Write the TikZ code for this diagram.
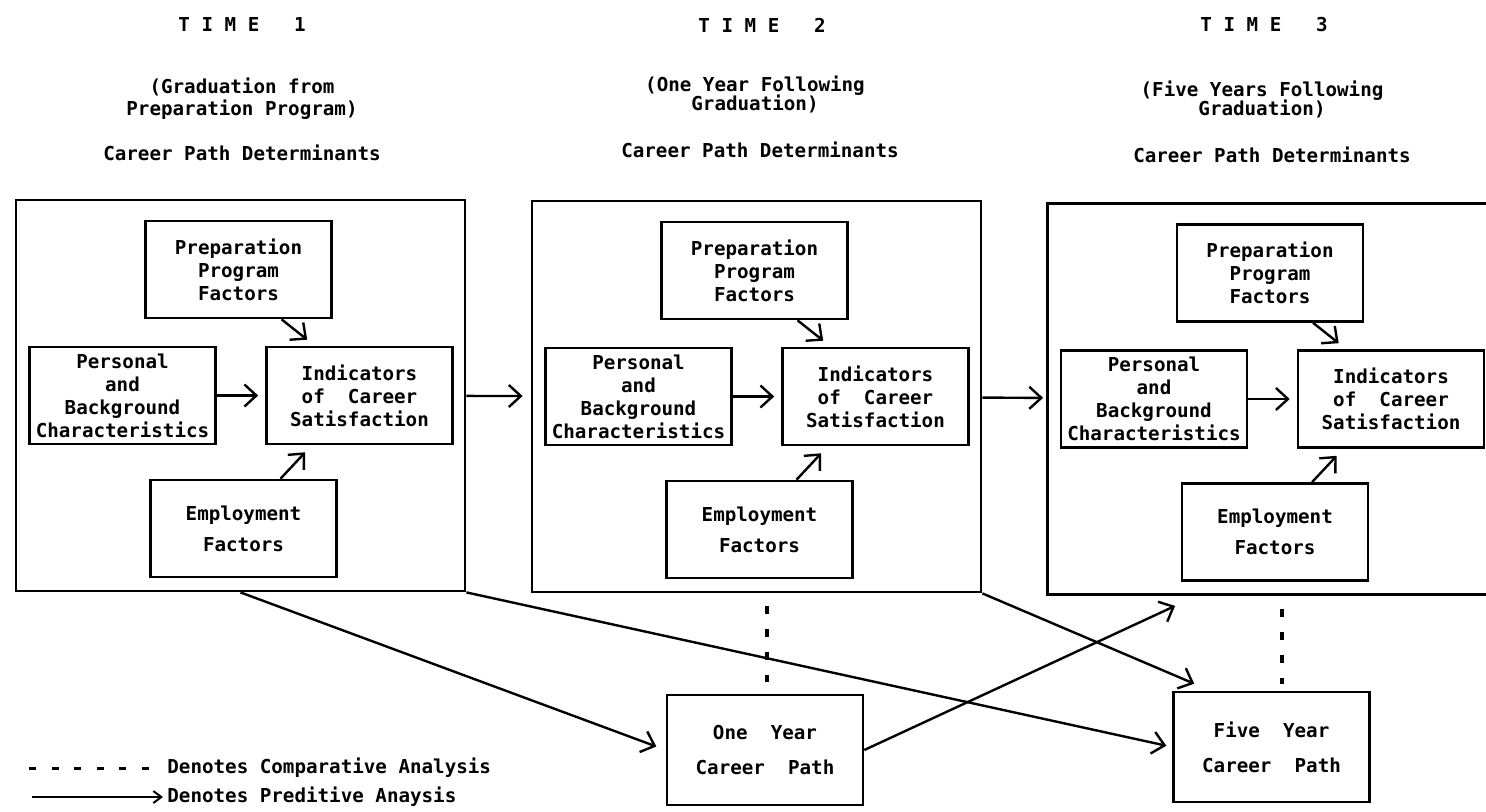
\documentclass[tikz,border=0pt]{standalone}
\usepackage{fontspec}
\setmainfont{DejaVu Sans Mono}
\usetikzlibrary{arrows.meta,positioning,calc}
\tikzset{
    panel/.style={draw=black, line width=1.4pt, minimum width=224.5pt, minimum height=195.5pt, inner sep=0pt},
    factor/.style={draw=black, line width=1.3pt, minimum width=93pt, minimum height=48.5pt,
        align=center, inner sep=1pt, font=\bfseries\fontsize{9.6}{11.5}\selectfont},
    careerpath/.style={factor, minimum width=98pt, minimum height=55pt},
    heading/.style={align=center, inner sep=0pt, font=\bfseries\fontsize{9.6}{11}\selectfont},
    predict/.style={draw=black, line width=1.2pt, -{Straight Barb[length=6pt,width=11pt]}},
    compare/.style={draw=black, line width=1.6pt, dash pattern=on 4pt off 7.5pt},
}
\begin{document}
\begin{tikzpicture}[x=0.5pt, y=-0.5pt]
	\clip (0,0) rectangle (1486,812);
	% headings
	\node[heading] (time1) at (242,25) {T I M E\ \ \ 1};
	\node[heading] (when1) at (242,99) {(Graduation from\\Preparation Program)};
	\node[heading] (det1) at (242,153) {Career Path Determinants};
	\node[heading] (time2) at (762,25) {T I M E\ \ \ 2};
	\node[heading] (when2) at (755,94) {(One Year Following\\[-1.5pt]Graduation)};
	\node[heading] (det2) at (760,150) {Career Path Determinants};
	\node[heading] (time3) at (1264,25) {T I M E\ \ \ 3};
	\node[heading] (when3) at (1262,99) {(Five Years Following\\[-1.5pt]Graduation)};
	\node[heading] (det3) at (1272,155) {Career Path Determinants};
	%
	\foreach \i/\cx/\cy in {1/240.5/395.5, 2/756.5/396.5, 3/1272/399} {
		\node[panel] (box\i) at (\cx,\cy) {};
		\node[factor] (prep\i) at ($(box\i)+(-2,-126)$) {Preparation\\Program\\Factors};
		\node[factor] (pers\i) at ($(box\i)+(-118,0)$) {Personal\\and\\Background\\Characteristics};
		\node[factor] (ind\i) at ($(box\i)+(119,0)$) {Indicators\\of\ \ Career\\Satisfaction};
		\node[factor] (emp\i) at ($(box\i)+(3,133)$) {Employment\\[4pt]Factors};
		\draw[predict, shorten >=3.5pt] (pers\i) -- (ind\i);
		\draw[predict] ($(prep\i.south)+(43,0)$) -- ($(ind\i.north west)+(42,-6)$);
		\draw[predict] ($(emp\i.north)+(37,0)$) -- ($(ind\i.south west)+(40,7)$);
	}
	\draw[predict, shorten >=4pt] (box1) -- (box2);
	\draw[predict, shorten >=1.5pt] (box2) -- (box3);
	%
	\node[careerpath] (onepath) at (765,750) {One\ \ Year\\[6pt]Career\ \ Path};
	\node[careerpath] (fivepath) at (1271.5,747) {Five\ \ Year\\[6pt]Career\ \ Path};
	\draw[predict, shorten >=5pt] (box1.south) -- (onepath.west);
	\draw[predict, shorten >=3pt] (box1.south east) -- (fivepath.west);
	\draw[predict] (box2.south east) -- ($(fivepath.north west)+(22,-7)$);
	\draw[predict] (onepath.east) -- ($(box3.south west)+(129,10)$);
	\draw[compare] ($(onepath.north |- box2.south)+(2,13)$) -- ($(onepath.north)+(2,-12)$);
	\draw[compare] ($(fivepath.north |- box3.south)+(10.5,13)$) -- ($(fivepath.north)+(10.5,-7)$);
	% legend
	\coordinate (cmpA) at (29,768);
	\coordinate (cmpB) at (150,768);
	\draw[compare, line width=1.5pt, dash pattern=on 3.5pt off 7.8pt] (cmpA) -- (cmpB);
	\node[heading, anchor=west] (cmptext) at (167,768) {Denotes Comparative Analysis};
	\coordinate (preA) at (32,797);
	\coordinate (preB) at (163,797);
	\draw[predict, line width=1pt, -{Straight Barb[length=4pt,width=6pt]}] (preA) -- (preB);
	\node[heading, anchor=west] (pretext) at (167,797) {Denotes Preditive Anaysis};
\end{tikzpicture}
\end{document}
